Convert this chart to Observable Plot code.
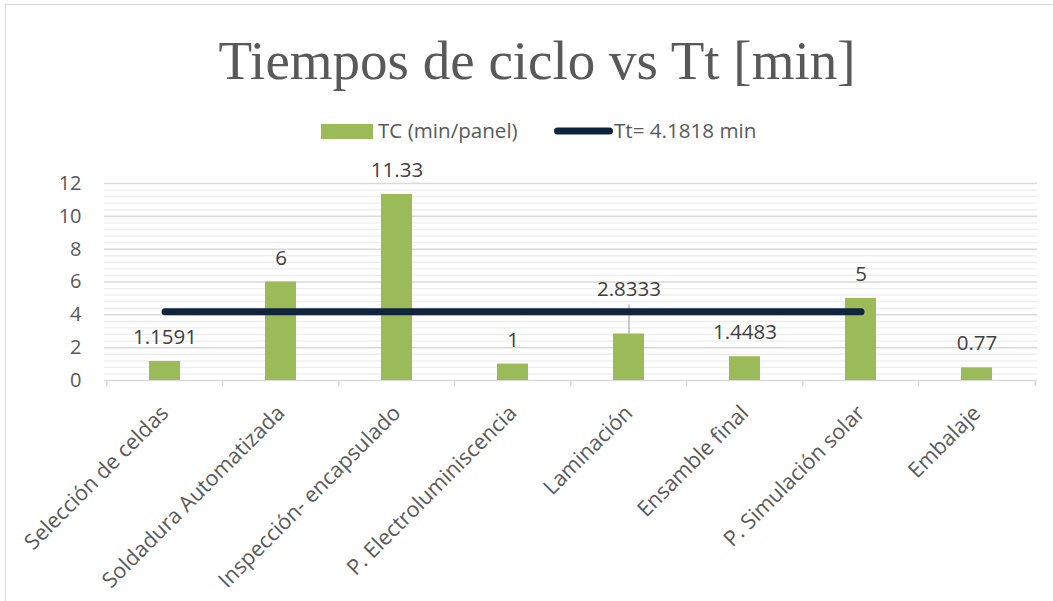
<!DOCTYPE html>
<html>
<head>
<meta charset="utf-8">
<script src="https://cdn.jsdelivr.net/npm/d3@7"></script>
<script src="https://cdn.jsdelivr.net/npm/@observablehq/plot@0.6"></script>
<style>
  html, body { margin: 0; padding: 0; background: #ffffff; overflow: hidden; }
  #wrap { position: relative; width: 1053px; height: 601px; overflow: hidden; }
  #frame { position: absolute; left: 5px; top: 4px; width: 1200px; height: 800px; border: 1.5px solid #d9d9d9; box-sizing: border-box; }
  #chart, #overlay { position: absolute; left: 0; top: 0; }
</style>
</head>
<body>
<div id="wrap">
  <div id="frame"></div>
  <div id="chart"></div>
  <svg id="overlay" width="1053" height="170"></svg>
</div>
<script>
// ---- data ----
const categories = [
  "Selección de celdas",
  "Soldadura Automatizada",
  "Inspección- encapsulado",
  "P. Electroluminiscencia",
  "Laminación",
  "Ensamble final",
  "P. Simulación solar",
  "Embalaje"
];
const tcValues = [1.1591, 6, 11.33, 1, 2.8333, 1.4483, 5, 0.77];
const tcLabels = ["1.1591", "6", "11.33", "1", "2.8333", "1.4483", "5", "0.77"];
const ttValues = [4.1818, 4.1818, 4.1818, 4.1818, 4.1818, 4.1818, 4.1818, null];
const yTicks = [0, 2, 4, 6, 8, 10, 12];
const titleText = "Tiempos de ciclo vs Tt [min]";
const legendTC = "TC (min/panel)";
const legendTt = "Tt= 4.1818 min";

// ---- derived tables ----
const barData = categories.map((c, i) => ({cat: c, value: tcValues[i], label: tcLabels[i]}));
const ttData = categories.map((c, i) => ({cat: c, value: ttValues[i]})).filter(d => d.value != null);
const minorTicks = d3.range(0, 60).map(k => k * 0.4).filter(v => v <= 12 && Math.abs(v / 2 - Math.round(v / 2)) > 1e-6);

const W = 1053, H = 601, ML = 104, MR = 16, MT = 183, MB = 221;
const step = (W - ML - MR) / categories.length;
const pxToUnits = 12 / (H - MT - MB);

const font = "'Open Sans', sans-serif";
const labelColor = "#595959";

const chart = Plot.plot({
  width: W, height: H,
  marginLeft: ML, marginRight: MR, marginTop: MT, marginBottom: MB,
  style: {fontFamily: font, fontSize: "20px", color: labelColor, background: "transparent", overflow: "visible"},
  x: {domain: categories, paddingInner: 0.734, paddingOuter: 0.367},
  y: {domain: [0, 12]},
  marks: [
    Plot.ruleY(minorTicks, {stroke: "#eeeeee", strokeWidth: 1.3}),
    Plot.ruleY(yTicks, {stroke: "#d9d9d9", strokeWidth: 1.5}),
    Plot.ruleX(categories, {x: d => d, dx: -step / 2, y1: 0, y2: -6 * pxToUnits, stroke: "#d9d9d9", strokeWidth: 1.5}),
    Plot.ruleX(categories.slice(-1), {x: d => d, dx: step / 2, y1: 0, y2: -6 * pxToUnits, stroke: "#d9d9d9", strokeWidth: 1.5}),
    Plot.barY(barData, {x: "cat", y: "value", fill: "#9bbb59"}),
    Plot.ruleX(barData.filter(d => d.label === "2.8333"), {x: "cat", y1: "value", y2: d => d.value + 29 * pxToUnits, stroke: "#a6a6a6", strokeWidth: 1.2}),
    Plot.lineY(ttData, {x: "cat", y: "value", stroke: "#10243e", strokeWidth: 7, strokeLinecap: "round"}),
    Plot.text(barData.filter(d => d.label !== "2.8333"), {x: "cat", y: "value", text: "label", dy: -24, fill: "#404040", fontSize: 20.5}),
    Plot.text(barData.filter(d => d.label === "2.8333"), {x: "cat", y: "value", text: "label", dy: -45, fill: "#404040", fontSize: 20.5}),
    Plot.axisY({ticks: yTicks, tickSize: 0, tickPadding: 23, fontSize: 20, label: null, fill: labelColor}),
    Plot.axisX({tickSize: 0, tickPadding: 29, tickRotate: -45, fontSize: 21.5, label: null, fill: labelColor})
  ]
});
document.getElementById("chart").appendChild(chart);

// ---- title & legend overlay ----
const ov = d3.select("#overlay");
ov.append("text").attr("x", 537).attr("y", 79).attr("text-anchor", "middle")
  .attr("font-family", "'Liberation Serif', serif").attr("font-size", 55).attr("fill", "#595959").text(titleText);
ov.append("rect").attr("x", 321).attr("y", 124).attr("width", 52).attr("height", 15).attr("fill", "#9bbb59");
ov.append("text").attr("x", 378).attr("y", 138).attr("font-family", font).attr("font-size", 20.6).attr("fill", labelColor).text(legendTC);
ov.append("line").attr("x1", 557.5).attr("x2", 609.5).attr("y1", 131).attr("y2", 131)
  .attr("stroke", "#10243e").attr("stroke-width", 7).attr("stroke-linecap", "round");
ov.append("text").attr("x", 614).attr("y", 138).attr("font-family", font).attr("font-size", 20.6).attr("fill", labelColor).text(legendTt);
</script>
</body>
</html>
